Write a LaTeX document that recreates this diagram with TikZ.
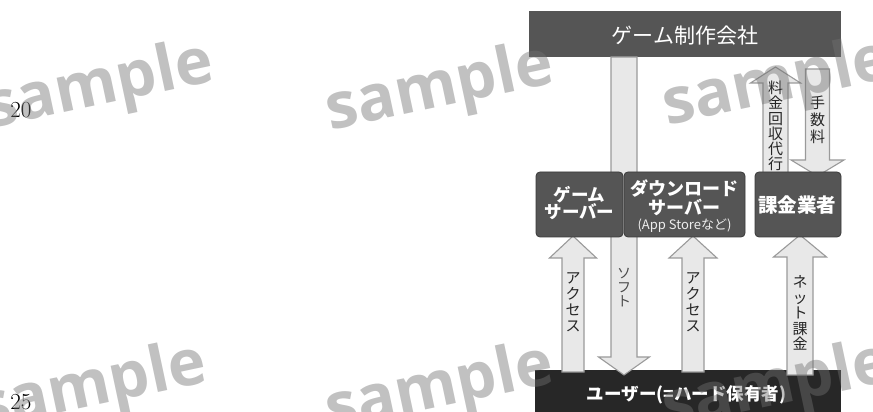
\documentclass[tikz,border=0pt]{standalone}
\usepackage{fontspec}
\newfontfamily\jp{Noto Sans CJK JP}
\newfontfamily\wmfont{Open Sans}
\usetikzlibrary{calc}
\definecolor{boxgray}{HTML}{555555}
\definecolor{boxline}{HTML}{3A3A3A}
\definecolor{userbar}{HTML}{272727}
\definecolor{arrowfill}{HTML}{E8E8E8}
\definecolor{arrowline}{HTML}{9A9A9A}
\definecolor{wmgray}{HTML}{717171}
\definecolor{subtxt}{HTML}{EEEEEE}
\tikzset{
  blk/.style={draw=arrowline, fill=arrowfill, line width=1.1pt, line join=miter},
  darkbox/.style={draw=boxline, fill=boxgray, rounded corners=4pt, line width=0.8pt,
    inner sep=0pt, text=white, align=center},
  bar/.style={inner sep=0pt, text=white},
  vtxt/.style={font=\jp\fontsize{15}{16}\selectfont, align=center, inner sep=0pt, text=black!85},
  wm/.style={font=\wmfont\bfseries\fontsize{64}{64}\selectfont, text=wmgray, text opacity=0.44,
    rotate=12, inner sep=0pt},
  lnum/.style={font=\fontsize{23}{23}\selectfont, inner sep=0pt, text=black},
}
% up block arrow: #1 base, #2 tip, #3 shaft half width, #4 head half width, #5 head length
\newcommand\blkup[5]{%
  \draw[blk] ($(#1)+(-#3,0)$) -- ($(#2)+(-#3,-#5)$) -- ($(#2)+(-#4,-#5)$) -- (#2)
    -- ($(#2)+(#4,-#5)$) -- ($(#2)+(#3,-#5)$) -- ($(#1)+(#3,0)$) -- cycle;}
% down block arrow: #1 top, #2 tip
\newcommand\blkdown[5]{%
  \draw[blk] ($(#1)+(-#3,0)$) -- ($(#2)+(-#3,#5)$) -- ($(#2)+(-#4,#5)$) -- (#2)
    -- ($(#2)+(#4,#5)$) -- ($(#2)+(#3,#5)$) -- ($(#1)+(#3,0)$) -- cycle;}
\begin{document}
\begin{tikzpicture}[x=1pt,y=1pt]
\useasboundingbox (0,0) rectangle (873,412);

% bars
\node[bar, fill=boxgray, minimum width=312pt, minimum height=46pt] (maker) at (685,378) {};
\node[font=\jp\fontsize{21}{21}\selectfont, text=white, inner sep=0pt] (makertxt) at (685,376) {ゲーム制作会社};
\node[bar, fill=userbar, minimum width=306pt, minimum height=44pt] (user) at (688,20) {};
\node[font=\jp\bfseries\fontsize{17.5}{17.5}\selectfont, text=white, inner sep=0pt] (usertxt) at (686.5,17) {ユーザー(=ハード保有者)};

% arrow end points
\coordinate (softT) at (624,355);  \coordinate (softE) at (624,37);
\coordinate (acc1B) at (573,40);   \coordinate (acc1E) at (573,176);
\coordinate (acc2B) at (693,40);   \coordinate (acc2E) at (693,176);
\coordinate (netB)  at (800,37);   \coordinate (netE)  at (800,177);
\coordinate (ryoB)  at (775.5,238); \coordinate (ryoE) at (775.5,345);
\coordinate (tesT)  at (817.5,343); \coordinate (tesE) at (817.5,236);

\blkdown{softT}{softE}{13}{25.5}{18}
\blkup{acc1B}{acc1E}{11}{23.5}{22}
\blkup{acc2B}{acc2E}{11}{24}{22}
\blkup{netB}{netE}{13}{26.5}{22}
\blkup{ryoB}{ryoE}{12.5}{25}{16}
\blkdown{tesT}{tesE}{12}{26.5}{16}

% boxes
\node[darkbox, minimum width=87pt, minimum height=65pt] (game) at (579.5,207.5) {};
\node[font=\jp\bfseries\fontsize{17.5}{17}\selectfont, text=white, align=center, inner sep=0pt]
  (gametxt) at (579.5,208.5) {ゲーム\\サーバー};
\node[darkbox, minimum width=121pt, minimum height=65pt] (dl) at (684.5,207.5) {};
\node[font=\jp\bfseries\fontsize{18}{19}\selectfont, text=white, align=center, inner sep=0pt]
  (dltxt) at (684.5,214.5) {ダウンロード\\サーバー};
\node[font=\jp\fontsize{13}{13}\selectfont, text=subtxt, inner sep=0pt]
  (dlsub) at (684.5,186) {(App Storeなど)};
\node[darkbox, minimum width=86pt, minimum height=65pt] (bill) at (798,207.5) {};
\node[font=\jp\bfseries\fontsize{19.5}{19}\selectfont, text=white, inner sep=0pt]
  (billtxt) at (797,207) {課金業者};

% arrow labels
\node[vtxt] (lacc1) at (573,110) {ア\\ク\\セ\\ス};
\node[vtxt, font=\jp\fontsize{14}{14}\selectfont, text=black!70] (lsoft) at (624,124) {ソ\\フ\\ト};
\node[vtxt] (lacc2) at (693,110) {ア\\ク\\セ\\ス};
\node[vtxt, font=\jp\fontsize{15}{15.4}\selectfont] (lnet) at (800,99) {ネ\\ッ\\ト\\課\\金};
\node[vtxt, font=\jp\fontsize{15}{15.3}\selectfont] (lryo) at (775.5,286) {料\\金\\回\\収\\代\\行};
\node[vtxt, font=\jp\fontsize{15}{16.7}\selectfont] (ltes) at (817.5,292) {手\\数\\料};

% line numbers
\node[lnum] (ln20) at (21,302) {20};
\node[lnum] (ln25) at (21,10) {25};

% watermarks
\node[wm] (wm1) at (100,324) {sample};
\node[wm] (wm2) at (440,322) {sample};
\node[wm] (wm3) at (777,327) {sample};
\node[wm] (wm4) at (93,23) {sample};
\node[wm] (wm5) at (440,22) {sample};
\node[wm] (wm6) at (777,24) {sample};
\end{tikzpicture}
\end{document}
